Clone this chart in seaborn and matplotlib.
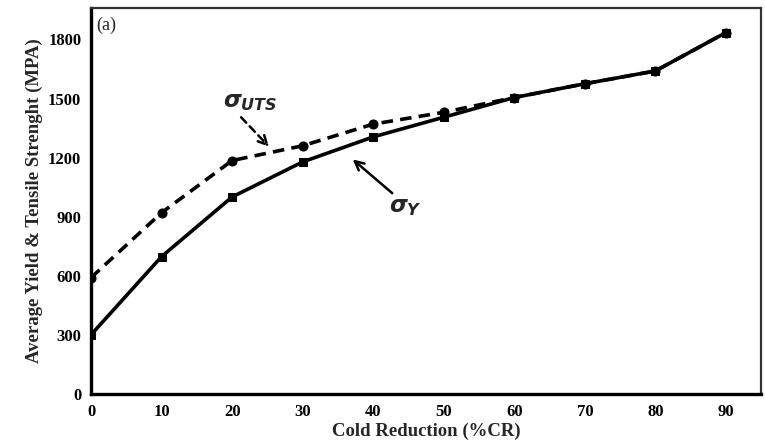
import matplotlib
matplotlib.use("Agg")
import matplotlib.pyplot as plt
import seaborn as sns
import pandas as pd

# Cold reduction levels (%CR)
cold_reduction = [0, 10, 20, 30, 40, 50, 60, 70, 80, 90]
# Ultimate tensile strength and yield strength (MPa)
uts = [590, 920, 1185, 1260, 1370, 1430, 1505, 1575, 1640, 1835]
yield_strength = [300, 697, 1000, 1178, 1305, 1405, 1505, 1575, 1640, 1835]

x_ticks = [0, 10, 20, 30, 40, 50, 60, 70, 80, 90]
y_ticks = [0, 300, 600, 900, 1200, 1500, 1800]

sns.set_theme(style="white")
plt.rcParams["font.family"] = ["Liberation Serif", "DejaVu Serif"]
plt.rcParams["mathtext.fontset"] = "custom"
plt.rcParams["mathtext.it"] = "DejaVu Sans:italic:bold"
plt.rcParams["mathtext.rm"] = "DejaVu Sans:bold"

df_uts = pd.DataFrame({"cr": cold_reduction, "val": uts})
df_y = pd.DataFrame({"cr": cold_reduction, "val": yield_strength})

fig = plt.figure(figsize=(7.65, 4.42), dpi=100)
ax = fig.add_axes([0.119, 0.109, 0.876, 0.873])

# yield strength: solid line with square markers
sns.lineplot(data=df_y, x="cr", y="val", ax=ax, color="black", lw=2.6,
             marker="s", markersize=5.5, markeredgecolor="black")
# tensile strength: dashed line with round markers
sns.lineplot(data=df_uts, x="cr", y="val", ax=ax, color="black", lw=2.6,
             marker="o", markersize=6.5, markeredgecolor="black",
             linestyle=(0, (3.2, 2.0)))

ax.set_xlim(0, 95)
ax.set_ylim(0, 1960)
ax.set_xticks(x_ticks)
ax.set_yticks(y_ticks)
ax.tick_params(direction="in", length=4, width=1.5, colors="black",
               labelsize=12, pad=7)
for lab in ax.get_xticklabels() + ax.get_yticklabels():
    lab.set_fontweight("bold")

ax.set_xlabel("Cold Reduction (%CR)", fontsize=13.5, fontweight="bold", labelpad=2)
ax.set_ylabel("Average Yield & Tensile Strenght (MPA)", fontsize=13.5,
              fontweight="bold", labelpad=4)

for side in ["left", "bottom"]:
    ax.spines[side].set_linewidth(2.4)
    ax.spines[side].set_color("black")
for side in ["top", "right"]:
    ax.spines[side].set_linewidth(1.6)
    ax.spines[side].set_color("#333333")

ax.text(0.8, 1870, "(a)", fontsize=13, ha="left", va="center")

# Curve labels with pointers
ax.annotate("", xy=(25.5, 1245), xytext=(21.0, 1415),
            arrowprops=dict(arrowstyle="->", color="black", lw=1.8,
                            linestyle=(0, (3, 2)), mutation_scale=16))
ax.text(18.7, 1480, r"$\sigma_{UTS}$", fontsize=16.5, ha="left", va="center")

ax.annotate("", xy=(36.8, 1200), xytext=(43.0, 1010),
            arrowprops=dict(arrowstyle="->", color="black", lw=1.8,
                            mutation_scale=16))
ax.text(42.3, 945, r"$\sigma_{Y}$", fontsize=16.5, ha="left", va="center")

fig.savefig("out.png", dpi=100)
